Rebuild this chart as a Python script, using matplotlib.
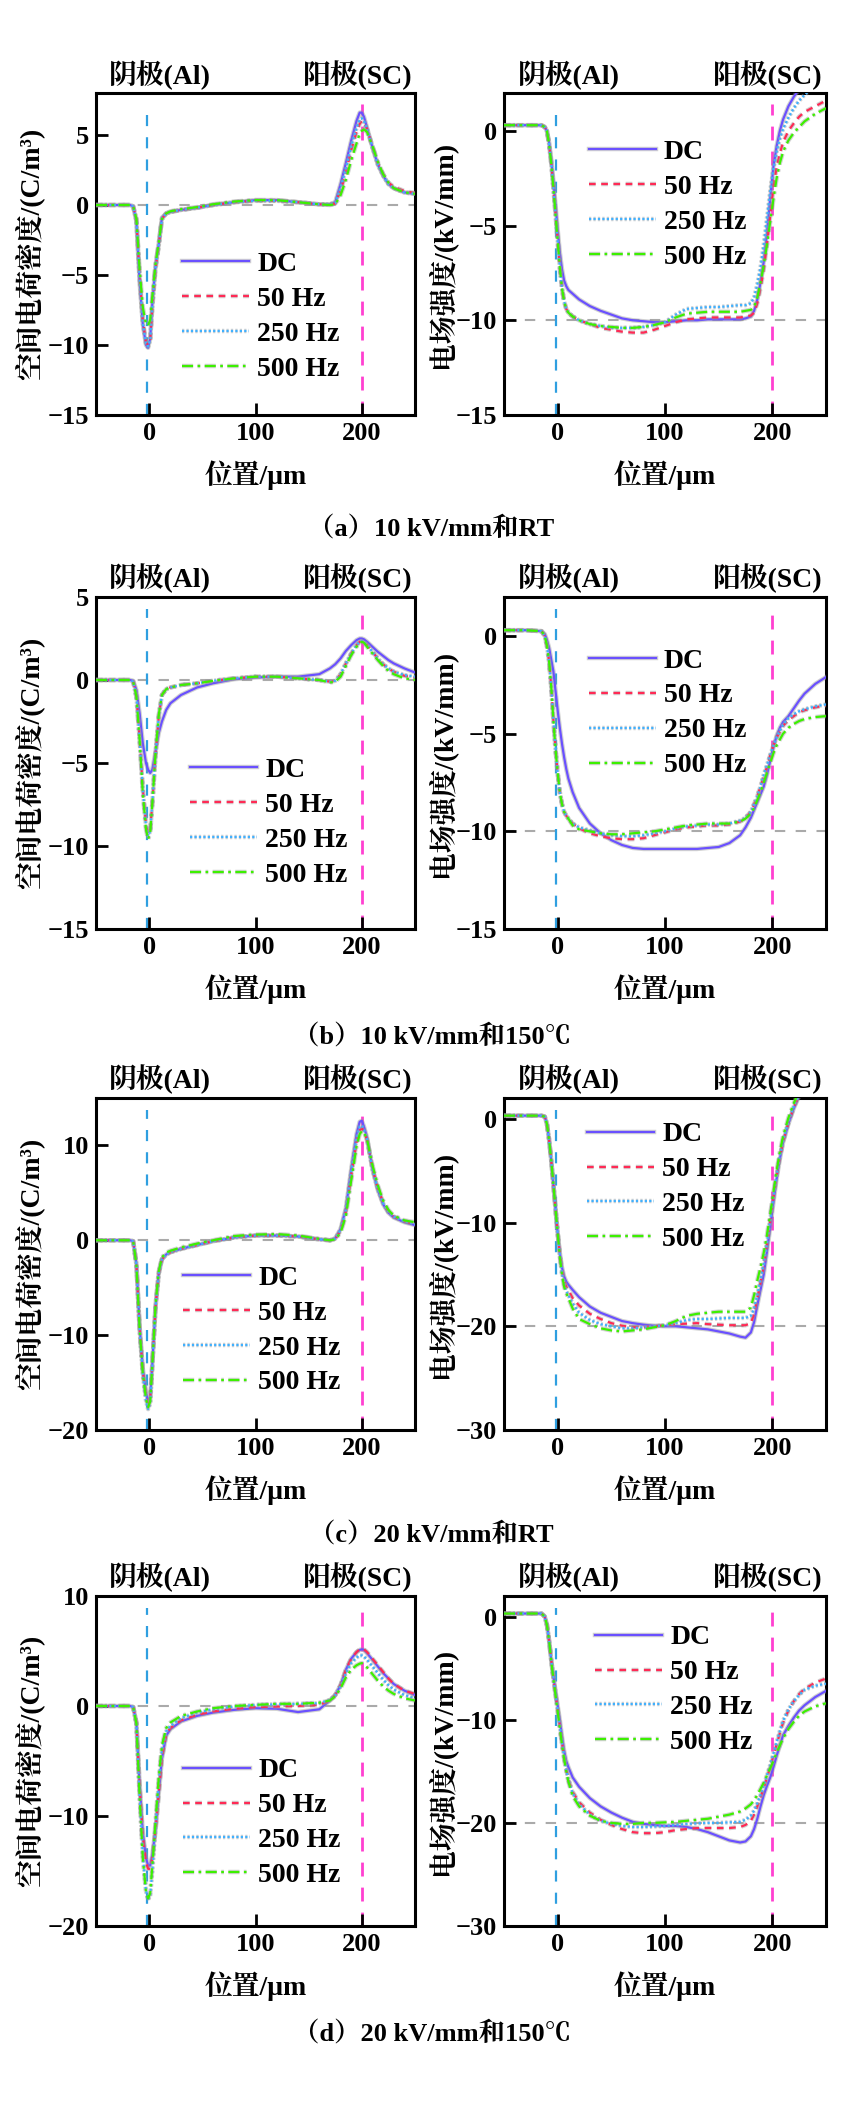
import matplotlib
matplotlib.use("Agg")
import matplotlib.pyplot as plt
import matplotlib.patheffects as pe

plt.rcParams['font.family'] = ['Liberation Serif', 'Noto Serif CJK SC', 'Noto Sans CJK SC']
plt.rcParams['font.weight'] = 'bold'
plt.rcParams['axes.unicode_minus'] = True

# ---------------- data ----------------
series_labels = ['DC', '50 Hz', '250 Hz', '500 Hz']
captions = ['（a）10 kV/mm和RT', '（b）10 kV/mm和150℃', '（c）20 kV/mm和RT', '（d）20 kV/mm和150℃']
rho_ylabel = '空间电荷密度/(C/m³)'
e_ylabel = '电场强度/(kV/mm)'
x_label = '位置/μm'
cathode_label = '阴极(Al)'
anode_label = '阳极(SC)'
cathode_x = -2
anode_x = 200

rho_x = [-50, -30, -18, -15, -12, -9, -6, -3, -1, 1, 3, 6, 9, 12, 16, 20, 30, 45, 60, 80,
         100, 120, 140, 160, 170, 175, 180, 185, 190, 195, 198, 200, 202, 205, 210, 215, 220, 225, 230, 240, 250]
e_x = [-50, -30, -15, -12, -10, -8, -6, -4, -2, 0, 2, 4, 6, 8, 10, 14, 20, 30, 40, 50,
       60, 70, 80, 90, 100, 110, 120, 130, 140, 150, 160, 170, 175, 180, 183, 186, 189, 192, 195, 198,
       201, 204, 207, 210, 215, 220, 225, 230, 240, 250]

# (a) 10 kV/mm, RT
a_rho_dc = [0, 0, 0, -0.1, -1.2, -5.5, -8.5, -10.0, -10.2, -9.5, -7.0, -4.3, -2.8, -0.9, -0.6,
            -0.5, -0.35, -0.2, 0.0, 0.2, 0.35, 0.35, 0.2, 0.05, 0.05, 0.2, 1.5, 3.0, 4.6, 6.0,
            6.6, 6.6, 6.3, 5.5, 4.1, 2.9, 2.1, 1.5, 1.2, 0.9, 0.8]
a_rho_50 = [0, 0, 0, -0.1, -1.0, -5.0, -8.2, -9.8, -10.0, -9.6, -7.3, -4.6, -2.9, -1.0, -0.6,
            -0.5, -0.35, -0.2, 0.0, 0.2, 0.3, 0.3, 0.2, 0.05, 0.05, 0.1, 1.0, 2.3, 3.9, 5.2,
            5.8, 6.0, 5.9, 5.4, 4.2, 3.0, 2.2, 1.6, 1.3, 1.0, 0.85]
a_rho_250 = [0, 0, 0, -0.1, -1.1, -5.2, -8.4, -9.9, -10.1, -9.6, -7.2, -4.5, -2.9, -1.0, -0.6,
             -0.5, -0.35, -0.2, 0.0, 0.2, 0.3, 0.3, 0.2, 0.05, 0.05, 0.15, 1.2, 2.6, 4.2, 5.5,
             6.1, 6.2, 6.0, 5.4, 4.1, 2.9, 2.1, 1.5, 1.2, 0.9, 0.8]
a_rho_500 = [0, 0, 0, -0.1, -1.0, -4.6, -7.3, -8.5, -8.6, -8.2, -6.5, -4.2, -2.7, -1.0, -0.6,
             -0.45, -0.3, -0.15, 0.05, 0.25, 0.35, 0.35, 0.2, 0.05, 0.0, 0.05, 0.7, 1.8, 3.2, 4.4,
             5.1, 5.3, 5.4, 5.2, 4.2, 3.1, 2.2, 1.6, 1.2, 0.9, 0.8]
a_e_dc = [0.3, 0.3, 0.3, 0.2, 0.0, -0.6, -1.5, -2.6, -3.9, -5.2, -6.4, -7.3, -7.9, -8.2, -8.4,
          -8.6, -8.9, -9.25, -9.5, -9.7, -9.9, -10.0, -10.05, -10.1, -10.1, -10.05, -10.0, -10.0, -9.95, -9.95,
          -9.95, -9.95, -9.9, -9.8, -9.5, -8.9, -8.0, -6.9, -5.4, -3.6, -1.9, -0.8, 0.0, 0.6, 1.3,
          1.8, 2.2, 2.5, 3.0, 3.4]
a_e_50 = [0.3, 0.3, 0.3, 0.2, 0.0, -0.7, -1.7, -3.0, -4.4, -5.8, -7.2, -8.3, -9.0, -9.4, -9.6,
          -9.8, -10.0, -10.2, -10.4, -10.5, -10.6, -10.65, -10.65, -10.5, -10.3, -10.1, -9.95, -9.9, -9.85, -9.85,
          -9.85, -9.85, -9.8, -9.75, -9.6, -9.1, -8.3, -7.3, -6.0, -4.5, -3.0, -1.9, -1.2, -0.6, 0.0,
          0.4, 0.75, 1.0, 1.3, 1.6]
a_e_250 = [0.3, 0.3, 0.3, 0.2, 0.0, -0.7, -1.7, -3.0, -4.4, -5.8, -7.2, -8.3, -9.0, -9.4, -9.6,
           -9.8, -10.0, -10.2, -10.3, -10.4, -10.4, -10.4, -10.35, -10.25, -10.1, -9.7, -9.4, -9.35, -9.3, -9.3,
           -9.25, -9.2, -9.2, -9.1, -8.8, -8.1, -7.2, -6.0, -4.6, -3.2, -2.0, -1.1, -0.4, 0.1, 0.7,
           1.2, 1.6, 1.9, 2.4, 2.8]
a_e_500 = [0.3, 0.3, 0.3, 0.2, 0.0, -0.7, -1.7, -3.0, -4.4, -5.8, -7.2, -8.3, -9.0, -9.4, -9.6,
           -9.8, -10.0, -10.2, -10.3, -10.35, -10.4, -10.4, -10.35, -10.25, -10.1, -9.85, -9.65, -9.6, -9.55, -9.55,
           -9.55, -9.55, -9.5, -9.45, -9.3, -8.8, -8.0, -7.1, -6.0, -4.8, -3.6, -2.5, -1.7, -1.1, -0.5,
           -0.1, 0.2, 0.5, 0.9, 1.2]

# (b) 10 kV/mm, 150 C
b_rho_dc = [0, 0, 0, -0.05, -0.6, -2.0, -3.8, -5.0, -5.4, -5.6, -5.4, -4.3, -3.2, -2.5, -1.8,
            -1.4, -0.9, -0.45, -0.2, 0.05, 0.15, 0.2, 0.2, 0.35, 0.7, 0.95, 1.3, 1.75, 2.1, 2.4,
            2.5, 2.5, 2.45, 2.3, 2.0, 1.7, 1.45, 1.2, 1.0, 0.7, 0.45]
b_rho_50 = [0, 0, 0, -0.1, -1.0, -3.5, -6.5, -8.7, -9.3, -9.0, -7.4, -4.5, -2.2, -0.9, -0.55,
            -0.45, -0.3, -0.2, -0.05, 0.1, 0.2, 0.2, 0.1, 0.0, -0.1, -0.05, 0.35, 1.0, 1.6, 2.1,
            2.3, 2.35, 2.3, 2.1, 1.7, 1.3, 0.95, 0.7, 0.5, 0.25, 0.15]
b_rho_250 = [0, 0, 0, -0.1, -1.0, -3.5, -6.6, -8.8, -9.4, -9.1, -7.4, -4.5, -2.2, -0.9, -0.55,
             -0.45, -0.3, -0.2, -0.05, 0.1, 0.2, 0.2, 0.1, 0.0, -0.1, -0.05, 0.35, 1.0, 1.6, 2.1,
             2.3, 2.35, 2.3, 2.1, 1.7, 1.3, 0.95, 0.7, 0.5, 0.3, 0.2]
b_rho_500 = [0, 0, 0, -0.1, -1.0, -3.6, -6.8, -9.0, -9.6, -9.2, -7.4, -4.4, -2.1, -0.9, -0.55,
             -0.45, -0.3, -0.2, -0.05, 0.1, 0.2, 0.2, 0.1, 0.0, -0.15, -0.1, 0.2, 0.85, 1.5, 2.0,
             2.25, 2.3, 2.25, 2.0, 1.6, 1.2, 0.85, 0.55, 0.35, 0.1, 0.0]
b_e_dc = [0.3, 0.3, 0.25, 0.1, -0.2, -0.6, -1.2, -1.8, -2.8, -3.8, -4.7, -5.5, -6.2, -6.8, -7.3,
          -8.0, -8.8, -9.6, -10.1, -10.45, -10.7, -10.85, -10.9, -10.9, -10.9, -10.9, -10.9, -10.9, -10.85, -10.8,
          -10.6, -10.2, -9.8, -9.3, -8.9, -8.5, -8.1, -7.7, -7.1, -6.4, -5.7, -5.1, -4.7, -4.4, -4.1,
          -3.7, -3.3, -2.95, -2.45, -2.1]
b_e_50 = [0.3, 0.3, 0.25, 0.0, -0.5, -1.3, -2.6, -4.3, -5.8, -7.0, -8.0, -8.6, -9.0, -9.2, -9.35,
          -9.6, -9.85, -10.1, -10.25, -10.35, -10.4, -10.4, -10.35, -10.2, -10.05, -9.9, -9.8, -9.75, -9.7, -9.7,
          -9.65, -9.5, -9.3, -9.0, -8.6, -8.2, -7.7, -7.2, -6.7, -6.1, -5.6, -5.2, -4.9, -4.6, -4.3,
          -4.1, -3.9, -3.8, -3.65, -3.55]
b_e_250 = [0.3, 0.3, 0.25, 0.0, -0.5, -1.3, -2.6, -4.3, -5.8, -7.0, -8.0, -8.6, -9.0, -9.2, -9.35,
           -9.6, -9.8, -9.95, -10.1, -10.2, -10.25, -10.25, -10.2, -10.1, -10.0, -9.85, -9.75, -9.7, -9.65, -9.65,
           -9.6, -9.45, -9.3, -9.0, -8.6, -8.2, -7.7, -7.1, -6.6, -6.1, -5.6, -5.2, -4.85, -4.55, -4.2,
           -4.0, -3.85, -3.75, -3.6, -3.5]
b_e_500 = [0.3, 0.3, 0.25, 0.0, -0.5, -1.3, -2.6, -4.3, -5.8, -7.0, -8.0, -8.6, -9.0, -9.2, -9.35,
           -9.7, -9.9, -10.0, -10.1, -10.15, -10.15, -10.1, -10.05, -10.0, -9.9, -9.8, -9.7, -9.65, -9.6, -9.6,
           -9.6, -9.5, -9.35, -9.1, -8.8, -8.4, -8.0, -7.5, -7.0, -6.5, -6.0, -5.6, -5.3, -5.0, -4.7,
           -4.5, -4.35, -4.25, -4.15, -4.1]

# (c) 20 kV/mm, RT
c_rho_dc = [0, 0, 0, -0.1, -2.5, -9.0, -13.5, -16.0, -17.0, -16.5, -13.0, -7.0, -3.5, -2.0, -1.5,
            -1.25, -0.9, -0.5, -0.1, 0.3, 0.5, 0.5, 0.4, 0.1, 0.0, 0.2, 1.2, 3.4, 7.5, 11.2,
            12.5, 12.6, 12.0, 10.8, 7.5, 5.3, 3.8, 2.9, 2.4, 1.9, 1.6]
c_rho_50 = [0, 0, 0, -0.1, -2.5, -9.2, -13.8, -16.3, -17.2, -16.7, -13.0, -7.0, -3.5, -2.0, -1.5,
            -1.25, -0.9, -0.5, -0.1, 0.3, 0.5, 0.5, 0.4, 0.1, 0.0, 0.15, 1.0, 3.0, 6.8, 10.3,
            11.6, 11.8, 11.5, 10.5, 7.6, 5.5, 4.0, 3.0, 2.5, 2.0, 1.7]
c_rho_250 = [0, 0, 0, -0.1, -2.6, -9.4, -14.2, -16.9, -17.8, -17.2, -13.2, -7.0, -3.5, -2.0, -1.5,
             -1.25, -0.9, -0.5, -0.1, 0.3, 0.5, 0.5, 0.4, 0.1, 0.0, 0.2, 1.1, 3.2, 7.2, 10.8,
             12.0, 12.1, 11.7, 10.6, 7.5, 5.4, 3.9, 3.0, 2.5, 2.0, 1.7]
c_rho_500 = [0, 0, 0, -0.1, -2.6, -9.3, -14.0, -16.7, -17.6, -17.0, -13.0, -6.8, -3.3, -1.8, -1.3,
             -1.1, -0.75, -0.35, 0.0, 0.45, 0.6, 0.65, 0.5, 0.15, 0.0, 0.1, 0.8, 2.6, 6.3, 9.9,
             11.2, 11.5, 11.4, 10.6, 7.9, 5.8, 4.2, 3.2, 2.6, 2.1, 1.9]
c_e_dc = [0.3, 0.3, 0.3, 0.2, -0.5, -2.0, -4.0, -6.3, -8.7, -11.0, -12.9, -14.3, -15.2, -15.7, -16.0,
          -16.5, -17.2, -18.1, -18.7, -19.1, -19.5, -19.7, -19.85, -19.95, -20.0, -20.0, -20.1, -20.2, -20.3, -20.5,
          -20.7, -21.0, -21.1, -20.6, -19.6, -18.0, -16.5, -15.0, -12.8, -10.5, -8.1, -5.8, -3.9, -2.3, -0.5,
          1.0, 2.2, 3.3, 5.0, 6.5]
c_e_50 = [0.3, 0.3, 0.3, 0.2, -0.5, -2.0, -4.0, -6.3, -8.7, -11.0, -13.0, -14.6, -15.6, -16.2, -16.5,
          -17.3, -18.0, -18.8, -19.3, -19.7, -19.95, -20.1, -20.1, -20.0, -19.9, -19.8, -19.75, -19.7, -19.8, -19.85,
          -19.9, -19.9, -19.9, -19.7, -18.8, -17.3, -15.8, -14.2, -12.1, -9.9, -7.6, -5.5, -3.7, -2.2, -0.4,
          1.1, 2.3, 3.4, 5.0, 6.5]
c_e_250 = [0.3, 0.3, 0.3, 0.2, -0.5, -2.0, -4.0, -6.3, -8.7, -11.0, -13.1, -14.8, -15.9, -16.6, -17.0,
           -17.8, -18.7, -19.4, -19.8, -20.0, -20.2, -20.2, -20.1, -20.0, -19.9, -19.7, -19.4, -19.3, -19.3, -19.25,
           -19.2, -19.2, -19.2, -19.0, -18.3, -17.0, -15.5, -14.0, -12.0, -9.8, -7.5, -5.4, -3.6, -2.1, -0.3,
           1.2, 2.4, 3.5, 5.1, 6.6]
c_e_500 = [0.3, 0.3, 0.3, 0.2, -0.5, -2.0, -4.0, -6.3, -8.7, -11.0, -13.3, -15.0, -16.2, -16.8, -17.3,
           -18.3, -19.3, -19.8, -20.2, -20.4, -20.5, -20.4, -20.3, -20.1, -19.9, -19.5, -19.0, -18.8, -18.7, -18.6,
           -18.6, -18.6, -18.6, -18.2, -17.0, -15.6, -14.3, -12.9, -11.2, -9.2, -7.1, -5.0, -3.2, -1.7, 0.1,
           1.5, 2.7, 3.8, 5.4, 6.9]

# (d) 20 kV/mm, 150 C
d_rho_dc = [0, 0, 0, -0.1, -1.5, -7.0, -11.5, -13.8, -14.5, -14.5, -13.5, -11.2, -8.0, -4.8, -2.7,
            -2.1, -1.4, -0.9, -0.6, -0.35, -0.2, -0.25, -0.55, -0.3, 0.5, 1.0, 1.9, 3.3, 4.3, 4.9,
            5.1, 5.15, 5.1, 4.8, 4.2, 3.6, 3.0, 2.5, 2.0, 1.4, 1.0]
d_rho_50 = [0, 0, 0, -0.1, -1.5, -7.2, -11.8, -14.2, -14.8, -14.8, -13.8, -11.3, -8.0, -4.7, -2.6,
            -2.0, -1.3, -0.8, -0.5, -0.25, -0.1, -0.05, 0.0, 0.1, 0.5, 1.0, 1.9, 3.3, 4.3, 4.9,
            5.15, 5.2, 5.15, 4.9, 4.3, 3.7, 3.1, 2.5, 2.0, 1.4, 1.1]
d_rho_250 = [0, 0, 0, -0.1, -1.6, -8.0, -13.5, -16.8, -17.6, -17.2, -15.0, -11.0, -7.0, -4.0, -2.3,
             -1.8, -1.1, -0.6, -0.3, -0.05, 0.1, 0.15, 0.2, 0.25, 0.55, 1.0, 1.8, 3.0, 3.9, 4.4,
             4.6, 4.6, 4.5, 4.2, 3.6, 3.0, 2.4, 1.9, 1.5, 1.0, 0.7]
d_rho_500 = [0, 0, 0, -0.1, -1.6, -8.2, -13.8, -16.9, -17.5, -17.0, -14.5, -10.5, -6.5, -3.6, -2.0,
             -1.5, -0.9, -0.5, -0.2, 0.0, 0.1, 0.2, 0.2, 0.3, 0.5, 0.9, 1.6, 2.6, 3.3, 3.7,
             3.85, 3.9, 3.8, 3.5, 2.9, 2.3, 1.8, 1.4, 1.1, 0.7, 0.5]
d_e_dc = [0.3, 0.3, 0.3, 0.0, -0.8, -2.3, -4.2, -5.8, -7.2, -8.6, -10.0, -11.6, -13.0, -14.0, -14.6,
          -15.6, -16.5, -17.6, -18.4, -19.0, -19.5, -19.9, -20.1, -20.2, -20.3, -20.3, -20.4, -20.6, -20.9, -21.3,
          -21.7, -21.9, -21.8, -21.3, -20.6, -19.6, -18.4, -17.3, -16.4, -15.6, -14.6, -13.5, -12.5, -11.5, -10.6,
          -9.8, -9.1, -8.6, -7.8, -7.2]
d_e_50 = [0.3, 0.3, 0.3, 0.0, -0.8, -2.3, -4.2, -5.9, -7.5, -9.0, -10.6, -12.2, -13.6, -14.8, -15.8,
          -17.0, -18.0, -19.0, -19.7, -20.2, -20.6, -20.9, -21.0, -21.0, -20.9, -20.7, -20.6, -20.5, -20.5, -20.5,
          -20.5, -20.4, -20.2, -19.8, -19.2, -18.4, -17.5, -16.6, -15.6, -14.6, -13.5, -12.4, -11.3, -10.3, -9.1,
          -8.2, -7.5, -7.0, -6.4, -6.0]
d_e_250 = [0.3, 0.3, 0.3, 0.0, -0.8, -2.3, -4.2, -5.9, -7.5, -9.0, -10.6, -12.2, -13.6, -14.8, -15.8,
           -17.1, -18.2, -19.2, -19.8, -20.1, -20.3, -20.4, -20.4, -20.35, -20.3, -20.2, -20.1, -20.05, -20.0, -20.0,
           -19.95, -19.9, -19.7, -19.3, -18.8, -18.1, -17.3, -16.4, -15.4, -14.4, -13.3, -12.2, -11.1, -10.1, -9.0,
           -8.2, -7.6, -7.1, -6.7, -6.5]
d_e_500 = [0.3, 0.3, 0.3, 0.0, -0.8, -2.3, -4.3, -6.0, -7.6, -9.2, -10.8, -12.4, -13.8, -15.0, -16.0,
           -17.4, -18.4, -19.3, -19.8, -20.0, -20.1, -20.1, -20.0, -20.0, -19.95, -19.9, -19.8, -19.7, -19.6, -19.4,
           -19.2, -18.9, -18.6, -18.2, -17.8, -17.3, -16.7, -16.1, -15.4, -14.7, -14.0, -13.2, -12.5, -11.8, -10.9,
           -10.2, -9.6, -9.2, -8.7, -8.4]

rho_ylims = [(-15, 8), (-15, 5), (-20, 15), (-20, 10)]
rho_yticks = [[-15, -10, -5, 0, 5], [-15, -10, -5, 0, 5], [-20, -10, 0, 10], [-20, -10, 0, 10]]
e_ylims = [(-15, 2), (-15, 2), (-30, 2), (-30, 2)]
e_yticks = [[-15, -10, -5, 0], [-15, -10, -5, 0], [-30, -20, -10, 0], [-30, -20, -10, 0]]
e_ref = [-10, -10, -20, -20]
x_ticks = [0, 100, 200]

# ---------------- styles ----------------
colors = ['#6a50ff', '#ff2a55', '#3fb0ff', '#3cf000']
dashes = [None, (3.0, 2.5), (1.0, 1.0), (5.0, 2.0, 1.2, 2.0)]

W, H = 863, 2107
fig = plt.figure(figsize=(W / 100, H / 100), dpi=100)

rows_px = [(93, 415), (597, 929), (1098, 1430), (1596, 1926)]
left_px = (96, 415)
right_px = (504, 826)
caption_y = [528, 1036, 1534, 2033]
rho_leg = [(0.27, 0.305), (0.295, 0.32), (0.273, 0.30), (0.273, 0.312)]
e_leg = [(0.264, 0.653), (0.264, 0.65), (0.258, 0.732), (0.283, 0.715)]

rho_data = [
    [a_rho_dc, a_rho_50, a_rho_250, a_rho_500],
    [b_rho_dc, b_rho_50, b_rho_250, b_rho_500],
    [c_rho_dc, c_rho_50, c_rho_250, c_rho_500],
    [d_rho_dc, d_rho_50, d_rho_250, d_rho_500],
]
e_data = [
    [a_e_dc, a_e_50, a_e_250, a_e_500],
    [b_e_dc, b_e_50, b_e_250, b_e_500],
    [c_e_dc, c_e_50, c_e_250, c_e_500],
    [d_e_dc, d_e_50, d_e_250, d_e_500],
]

FS = 19
shadow = [pe.Stroke(linewidth=3.2, foreground='#9a9a9a', alpha=0.45), pe.Normal()]


def make_axes(xpx, ypx):
    x0, x1 = xpx
    y0, y1 = ypx
    return fig.add_axes([x0 / W, 1 - y1 / H, (x1 - x0) / W, (y1 - y0) / H])


def style_axes(ax, ylim, yticks, href, ylabel, leg_pos, xs, ys_list, ylabel_x):
    ax.set_xlim(-50, 250)
    ax.set_ylim(*ylim)
    ax.set_xticks(x_ticks)
    ax.set_yticks(yticks)
    for s in ax.spines.values():
        s.set_linewidth(2.2)
    ax.tick_params(direction='in', length=8.5, width=2.0, labelsize=FS, pad=5,
                   top=False, right=False)
    for lab in ax.get_xticklabels() + ax.get_yticklabels():
        lab.set_fontweight('bold')
    ax.axhline(href, color='#aaaaaa', lw=1.5, dashes=(5, 5), zorder=1)
    ax.axvline(cathode_x, ymin=0, ymax=0.965, color='#2f9fe0', lw=1.6, dashes=(5, 5), zorder=1)
    ax.axvline(anode_x, ymin=0, ymax=0.965, color='#ff40d0', lw=2.0, dashes=(5, 4), zorder=1)
    handles = []
    for ys, c, d, lab in zip(ys_list, colors, dashes, series_labels):
        kw = dict(color=c, lw=1.6, label=lab, path_effects=shadow, zorder=3)
        if d is not None:
            kw['dashes'] = d
        h, = ax.plot(xs, ys, **kw)
        handles.append(h)
    ax.legend(handles=handles, loc='center left', bbox_to_anchor=leg_pos, frameon=False,
              borderpad=0, borderaxespad=0, handlelength=2.4, handletextpad=0.3,
              labelspacing=0.34, prop={'size': FS + 1, 'weight': 'bold'})
    ax.set_xlabel(x_label, fontsize=FS + 1, fontweight='bold', labelpad=11)
    ax.text(0.2, 1.056, cathode_label, transform=ax.transAxes, ha='center', va='center',
            fontsize=FS + 1, fontweight='bold')
    ax.text(0.82, 1.056, anode_label, transform=ax.transAxes, ha='center', va='center',
            fontsize=FS + 1, fontweight='bold')
    pos = ax.get_position()
    fig.text(ylabel_x / W, pos.y0 + pos.height / 2, ylabel, rotation=90, ha='center', va='center',
             fontsize=FS + 1, fontweight='bold')


for i in range(4):
    axl = make_axes(left_px, rows_px[i])
    style_axes(axl, rho_ylims[i], rho_yticks[i], 0, rho_ylabel, rho_leg[i], rho_x, rho_data[i], 30)
    axr = make_axes(right_px, rows_px[i])
    style_axes(axr, e_ylims[i], e_yticks[i], e_ref[i], e_ylabel, e_leg[i], e_x, e_data[i], 441)
    fig.text(0.5, 1 - caption_y[i] / H, captions[i], ha='center', va='center',
             fontsize=FS, fontweight='bold')

fig.savefig('out.png', dpi=100)
